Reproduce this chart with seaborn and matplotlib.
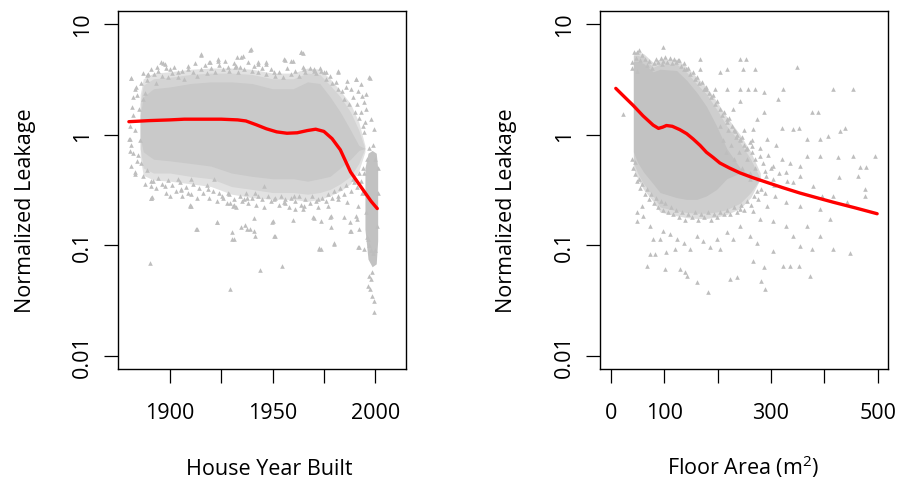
import numpy as np
import pandas as pd
import matplotlib
matplotlib.use("Agg")
import matplotlib.pyplot as plt
from matplotlib.ticker import NullLocator
import seaborn as sns

# ---------------- Left panel: House Year Built ----------------
year_curve = [1880, 1890, 1900, 1907, 1915, 1925, 1933, 1937, 1942, 1947, 1952, 1957, 1962, 1967, 1971, 1975, 1979, 1983, 1988, 1992, 1995, 1998, 2001]
leak_curve_year = [1.31, 1.34, 1.36, 1.38, 1.38, 1.38, 1.36, 1.33, 1.23, 1.13, 1.06, 1.03, 1.04, 1.09, 1.12, 1.07, 0.92, 0.73, 0.46, 0.36, 0.30, 0.25, 0.215]

# dense cloud envelope (halo / outer / inner) for the year panel
env_year = [1885.5, 1887, 1892, 1900, 1910, 1920, 1930, 1940, 1950, 1960, 1967, 1973, 1978, 1983, 1988, 1992, 1995]
env_year_up_halo = [2.3, 3.2, 3.6, 3.7, 3.9, 4.0, 4.0, 3.9, 3.6, 3.6, 4.0, 3.9, 3.2, 2.5, 1.9, 1.3, 0.8]
env_year_lo_halo = [0.62, 0.43, 0.39, 0.38, 0.36, 0.34, 0.29, 0.27, 0.26, 0.26, 0.25, 0.26, 0.28, 0.31, 0.36, 0.47, 0.7]
env_year_up_outer = [1.9, 2.8, 3.2, 3.3, 3.5, 3.6, 3.6, 3.5, 3.2, 3.2, 3.6, 3.5, 2.8, 2.2, 1.6, 1.1, 0.75]
env_year_lo_outer = [0.75, 0.5, 0.45, 0.45, 0.42, 0.40, 0.34, 0.32, 0.30, 0.30, 0.29, 0.30, 0.32, 0.36, 0.42, 0.55, 0.75]
env_year_up_inner = [1.5, 2.2, 2.6, 2.7, 2.9, 3.0, 3.0, 2.9, 2.6, 2.6, 3.0, 2.9, 2.2, 1.6, 1.1, 0.8, 0.75]
env_year_lo_inner = [0.95, 0.7, 0.6, 0.58, 0.55, 0.52, 0.45, 0.42, 0.40, 0.40, 0.38, 0.40, 0.42, 0.50, 0.60, 0.72, 0.75]
# recent-houses strip
strip_year = [1995.0, 1996.5, 1998.5, 2000.5, 2001.2]
strip_up = [0.5, 0.68, 0.72, 0.68, 0.5]
strip_lo = [0.14, 0.075, 0.064, 0.068, 0.11]

# scattered houses (year, leakage): outliers
pts_year = [
    1915.1, 1938.9, 1934.8, 1923.5, 1919.0, 1896.8, 1955.9, 1960.0, 1964.0, 1964.8, 1947.0, 1943.0,
    1981.8, 1990.8, 1997.7, 1995.6, 1992.9, 1880.9, 1883.5, 1888.7, 1893.6, 1931.6, 1932.9,
    1890.1, 1929.2, 1944.1, 1954.8, 1973.4, 1972.6, 1930.0, 1930.3, 1913.0, 1923.0, 1934.8, 1937.6,
    1941.0, 1941.3, 1940.8, 1951.1, 1950.0, 1979.9, 1988.3, 1991.9, 1987.5, 1990.8, 1977.8, 1969.7,
    1960.8, 1964.8, 1955.9, 1937.3, 1929.2, 1925.2, 1910.2, 1910.5, 1905.3, 1891.1, 1891.6, 1883.0,
    1883.8, 1880.6, 1880.2, 1881.4, 1882.2, 1996.4,
    1997.9, 1997.7, 1998.2, 1999.2, 1999.5, 1996.3, 1997.1, 1998.6, 1994.6, 1991.4, 1987.7, 1980.1,
    1972.8, 1950.9, 1912.8, 1923.0, 1949.7, 1959.8, 1970.3, 1978.4, 1973.5, 1985.0, 1991.1, 1992.2,
    1890.9, 1900.0, 1910.0, 1931.0, 1931.0, 1936.5, 1939.0, 1978.5,
    1881.2, 1882.8, 1886.9, 1889.3, 1895.8, 1897.4, 1899.8, 1903.9, 1908.8, 1915.2, 1919.3, 1923.3,
    1928.2, 1932.2, 1935.5, 1939.5, 1942.8, 1946.8, 1950.9, 1955.7, 1959.0, 1963.8, 1965.5, 1970.3,
    1973.6, 1976.0, 1981.7, 1986.5, 1988.2, 1990.6, 1993.8, 1994.6, 1995.4, 1997.1, 1997.9, 1999.5,
    1994.6, 1991.4,
    1880.4, 1882.0, 1881.2, 1882.8, 1890.9, 1890.9, 1897.4, 1903.9, 1905.5, 1910.4, 1909.6, 1918.5,
    1921.7, 1928.2, 1930.6, 1936.3, 1941.2, 1946.0, 1950.9, 1955.7, 1960.6, 1965.5, 1972.0, 1976.8,
    1981.7, 1986.5, 1989.8, 1991.4, 1993.8,
]
pts_leak_year = [
    5.28, 5.87, 5.07, 4.83, 4.5, 4.44, 4.73, 4.66, 5.55, 5.5, 4.57, 4.5,
    3.79, 3.18, 3.25, 2.33, 2.87, 3.23, 2.68, 3.46, 4.06, 4.06, 5.0,
    0.0687, 0.0403, 0.0598, 0.0655, 0.0927, 0.094, 0.114, 0.131, 0.141, 0.164, 0.145, 0.141,
    0.136, 0.121, 0.175, 0.122, 0.167, 0.103, 0.136, 0.096, 0.161, 0.185, 0.179, 0.179,
    0.213, 0.213, 0.241, 0.266, 0.24, 0.28, 0.228, 0.29, 0.318, 0.272, 0.384, 0.457,
    0.58, 0.717, 0.91, 1.77, 2.17, 0.114,
    0.0497, 0.0404, 0.0351, 0.0313, 0.0248, 0.0432, 0.053, 0.058, 0.093, 0.096, 0.136, 0.104,
    0.093, 0.122, 0.141, 0.164, 0.164, 0.17, 0.175, 0.185, 0.165, 0.18, 0.173, 0.14,
    0.27, 0.28, 0.23, 0.23, 0.114, 0.152, 0.14, 0.147,
    3.23, 2.59, 2.10, 3.53, 4.5, 4.35, 3.92, 3.66, 3.92, 5.36, 4.5, 4.66,
    4.06, 4.2, 5.17, 5.94, 4.35, 4.35, 3.66, 4.83, 4.66, 5.55, 3.92, 3.79,
    3.79, 3.66, 3.66, 3.08, 2.59, 3.18, 2.25, 1.96, 1.71, 3.3, 1.39, 1.13,
    1.05, 2.5,
    0.91, 0.69, 0.525, 0.44, 0.346, 0.27, 0.346, 0.40, 0.32, 0.40, 0.228, 0.32,
    0.40, 0.30, 0.228, 0.26, 0.30, 0.346, 0.26, 0.245, 0.28, 0.228, 0.26, 0.228,
    0.28, 0.245, 0.37, 0.228, 0.30,
]
# rim of the dense cloud (top edge)
rim_top_year = [1886, 1887, 1888, 1889, 1891, 1892, 1893, 1894, 1896, 1898, 1899, 1901, 1902, 1904, 1906, 1907, 1909, 1911,
                1912, 1913, 1915, 1917, 1918, 1920, 1922, 1924, 1926, 1927, 1929, 1931, 1933, 1934, 1936, 1938, 1940, 1941,
                1943, 1945, 1947, 1949, 1951, 1953, 1955, 1957, 1959, 1961, 1963, 1965, 1966, 1968, 1970, 1971, 1973, 1975,
                1976, 1978, 1979, 1981, 1982, 1984, 1985, 1986, 1987, 1989, 1990, 1991, 1992, 1993, 1994, 1995]
rim_top_leak = [2.9, 3.6, 2.4, 3.1, 3.9, 3.5, 2.9, 3.8, 3.4, 4.0, 3.3, 3.6, 4.1, 3.3, 3.8, 3.2, 4.2, 3.7,
                4.4, 3.4, 3.9, 4.3, 3.6, 4.0, 3.7, 4.3, 3.9, 4.6, 3.8, 4.4, 3.7, 4.1, 3.9, 4.5, 3.8, 4.2,
                3.7, 4.0, 3.5, 3.9, 3.4, 3.7, 3.3, 4.0, 3.5, 3.8, 3.4, 4.1, 3.7, 4.0, 3.9, 3.6, 4.0, 3.7,
                3.2, 3.4, 2.9, 3.0, 2.6, 2.5, 2.1, 2.7, 1.9, 2.2, 1.6, 1.9, 1.4, 1.6, 1.2, 1.3]
# rim of the dense cloud (bottom edge)
rim_bot_year = [1886, 1887, 1888, 1889, 1891, 1893, 1894, 1896, 1898, 1899, 1901, 1903, 1905, 1906, 1908, 1909, 1911, 1913,
                1914, 1916, 1918, 1919, 1921, 1923, 1924, 1926, 1928, 1929, 1931, 1932, 1934, 1935, 1937, 1938, 1940, 1942,
                1943, 1945, 1946, 1948, 1949, 1951, 1953, 1954, 1956, 1958, 1959, 1961, 1963, 1964, 1966, 1968, 1969, 1971,
                1972, 1974, 1976, 1977, 1979, 1980, 1982, 1983, 1985, 1986, 1988, 1989, 1991, 1992, 1993, 1994]
rim_bot_leak = [0.55, 0.42, 0.36, 0.48, 0.38, 0.33, 0.41, 0.36, 0.30, 0.39, 0.35, 0.31, 0.37, 0.28, 0.34, 0.30, 0.36, 0.27,
                0.33, 0.30, 0.35, 0.27, 0.31, 0.25, 0.30, 0.27, 0.24, 0.29, 0.26, 0.22, 0.28, 0.25, 0.30, 0.24, 0.27, 0.23,
                0.28, 0.26, 0.22, 0.28, 0.25, 0.27, 0.23, 0.28, 0.26, 0.22, 0.27, 0.25, 0.28, 0.23, 0.26, 0.24, 0.28, 0.25,
                0.22, 0.27, 0.25, 0.29, 0.27, 0.31, 0.26, 0.33, 0.29, 0.35, 0.31, 0.40, 0.34, 0.45, 0.38, 0.50]
# early houses and the edges of the recent strip
rim_misc_year = [1880.5, 1881, 1882, 1883, 1884, 1884.5, 1885, 1885.5, 1994.5, 1995, 1995.5, 1996, 1996, 1997, 1998,
                 1999, 2000, 2001, 2001.5, 2001.5, 1997, 1999, 2000]
rim_misc_leak = [1.2, 0.8, 1.5, 1.1, 2.3, 0.65, 1.7, 0.9, 0.45, 0.3, 0.2, 0.12, 0.6, 0.1, 0.09,
                 0.085, 0.09, 0.15, 0.3, 0.5, 0.75, 0.8, 0.6]

# ---------------- Right panel: Floor Area ----------------
area_curve = [9, 25, 42, 60, 79, 89, 97, 104, 115, 129, 142, 154, 167, 179, 192, 204, 222, 242, 265, 292, 322, 354, 385, 417, 458, 499]
leak_curve_area = [2.62, 2.2, 1.83, 1.48, 1.22, 1.14, 1.17, 1.21, 1.19, 1.11, 1.02, 0.914, 0.80, 0.693, 0.62, 0.555, 0.50, 0.451, 0.41, 0.371, 0.332, 0.297, 0.27, 0.245, 0.218, 0.193]

env_area = [42, 50, 61, 79, 92, 123, 142, 161, 179, 198, 217, 242, 262, 280]
env_area_up_halo = [5.6, 5.6, 5.4, 4.5, 4.8, 4.8, 4.1, 3.3, 2.7, 2.0, 1.45, 1.0, 0.7, 0.45]
env_area_lo_halo = [0.5, 0.4, 0.32, 0.25, 0.2, 0.185, 0.178, 0.175, 0.175, 0.18, 0.19, 0.215, 0.27, 0.4]
env_area_up_outer = [5.2, 5.2, 5.0, 4.06, 4.35, 4.35, 3.66, 2.87, 2.33, 1.7, 1.2, 0.85, 0.6, 0.4]
env_area_lo_outer = [0.56, 0.45, 0.36, 0.28, 0.222, 0.205, 0.198, 0.195, 0.195, 0.2, 0.21, 0.24, 0.3, 0.4]
env_area_up_inner = [4.6, 4.6, 4.4, 3.7, 3.9, 3.8, 3.1, 2.4, 1.8, 1.2, 0.75, 0.5, 0.42, 0.4]
env_area_lo_inner = [0.70, 0.56, 0.46, 0.36, 0.30, 0.27, 0.26, 0.26, 0.28, 0.32, 0.40, 0.45, 0.42, 0.4]

pts_area = [
    48, 96.9, 95, 126, 167, 242, 254, 167, 136, 217, 248, 270, 204, 348, 179, 195, 217, 242, 257, 270,
    286, 323, 417, 454, 242, 229, 286, 314, 376, 389, 273, 320, 342, 353, 367, 392, 407, 429, 439, 426,
    454, 495, 467, 479, 464, 428, 367, 392, 354, 329, 304, 342, 379, 354, 476, 476, 395, 417, 442, 329,
    354, 392, 411, 367, 329, 342, 392, 417, 448, 376, 354, 304, 323, 336, 353, 373, 286, 267, 281, 289,
    236, 223, 181, 161, 142, 139, 129, 101, 67, 73, 82.5, 104, 120, 148, 186, 204, 48, 48, 57.5, 60.6,
    73, 79, 92, 98, 111, 123, 136, 161, 173, 198, 217, 229, 242, 261, 273, 279, 304, 267, 242, 292,
    307, 273, 261, 289, 304, 279, 254, 242, 232, 267, 292, 264, 217, 22, 45, 48, 39,
]
pts_leak_area = [
    5.55, 6.15, 4.35, 4.76, 4.83, 4.83, 4.83, 3.92, 3.92, 3.92, 3.92, 3.92, 3.66, 4.06, 2.59, 2.59, 2.59, 2.59, 2.59, 2.59,
    2.41, 2.59, 2.59, 2.59, 2.03, 1.71, 1.59, 2.1, 1.59, 1.59, 1.39, 1.16, 1.13, 1.14, 0.914, 0.914, 0.98, 1.09, 1.16, 0.624,
    0.646, 0.646, 0.507, 0.507, 0.426, 0.411, 0.646, 0.646, 0.525, 0.457, 0.397, 0.371, 0.346, 0.426, 0.322, 0.281, 0.281, 0.281, 0.245, 0.245,
    0.228, 0.213, 0.173, 0.15, 0.15, 0.122, 0.122, 0.093, 0.086, 0.093, 0.099, 0.0895, 0.0655, 0.0655, 0.0655, 0.053, 0.0633, 0.0727, 0.048, 0.0403,
    0.0514, 0.05, 0.0381, 0.047, 0.0525, 0.057, 0.061, 0.061, 0.0655, 0.0835, 0.0835, 0.0865, 0.093, 0.093, 0.096, 0.093, 0.167, 0.199, 0.228, 0.185,
    0.151, 0.114, 0.114, 0.136, 0.126, 0.114, 0.106, 0.122, 0.11, 0.114, 0.131, 0.114, 0.15, 0.122, 0.106, 0.173, 0.167, 0.206, 0.213, 0.228,
    0.281, 0.312, 0.397, 0.473, 0.525, 0.646, 0.742, 0.914, 1.09, 1.13, 0.914, 0.795, 1.39, 1.54, 0.562, 3.79, 3.98,
]
rim_top_area = [40, 44, 47, 52, 55, 58, 63, 68, 72, 76, 81, 85, 88, 93, 97, 101, 105, 110, 114, 118, 122, 127, 131, 136, 140,
                145, 149, 153, 157, 161, 165, 170, 174, 178, 183, 187, 191, 195, 199, 204, 208, 212, 217, 222, 226, 231, 236,
                241, 246, 250, 255, 260, 265, 270]
rim_top_leak_area = [4.5, 5.6, 4.9, 5.8, 4.7, 5.3, 4.8, 4.3, 4.6, 4.0, 4.4, 4.8, 4.5, 4.9, 4.6, 5.0, 4.5, 4.9, 4.4, 4.8, 4.5, 4.7,
                     4.2, 4.4, 3.9, 4.0, 3.5, 3.7, 3.2, 3.3, 2.9, 3.0, 2.6, 2.7, 2.4, 2.2, 2.3, 1.9, 2.0, 1.7, 1.5, 1.6, 1.3,
                     1.4, 1.2, 1.1, 1.0, 0.9, 0.95, 0.8, 0.75, 0.85, 0.7, 0.6]
rim_bot_area = [40, 42, 45, 48, 52, 55, 59, 63, 67, 71, 75, 80, 84, 88, 93, 97, 102, 107, 112, 117, 122, 128, 133, 139, 145,
                151, 157, 163, 169, 175, 181, 187, 193, 199, 205, 211, 218, 224, 230, 236, 243, 249, 255, 262, 268, 275, 282, 288]
rim_bot_leak_area = [0.6, 0.5, 0.44, 0.38, 0.4, 0.33, 0.36, 0.29, 0.32, 0.26, 0.29, 0.24, 0.27, 0.22, 0.25, 0.21, 0.24, 0.2,
                     0.22, 0.19, 0.21, 0.18, 0.2, 0.17, 0.19, 0.18, 0.2, 0.17, 0.19, 0.18, 0.2, 0.17, 0.19, 0.18, 0.2, 0.19,
                     0.21, 0.19, 0.22, 0.2, 0.23, 0.21, 0.25, 0.23, 0.28, 0.26, 0.32, 0.3]
mid_area = [205, 210, 215, 220, 225, 230, 235, 240, 245, 250, 255, 260, 265, 270, 275, 280, 285, 290, 295, 300, 305, 310, 315,
            320, 330, 335]
mid_leak_area = [1.2, 0.9, 0.7, 1.1, 0.8, 0.6, 0.95, 0.7, 0.5, 1.1, 0.6, 0.45, 0.9, 0.5, 0.4, 0.75, 0.55, 0.42, 0.65, 0.5,
                 0.35, 0.8, 0.45, 0.6, 0.38, 0.55]

# ---------------- styling ----------------
sns.set_style("white")
plt.rcParams['font.family'] = ['Open Sans', 'DejaVu Sans']
plt.rcParams['mathtext.fontset'] = 'custom'
plt.rcParams['mathtext.rm'] = 'Open Sans'
plt.rcParams['mathtext.it'] = 'Open Sans:italic'
plt.rcParams['text.color'] = 'black'

PT_COLOR = '#bebebe'
FS = 15.5

fig = plt.figure(figsize=(9.01, 4.81), dpi=100)
W, H = 901, 481
ax1 = fig.add_axes([118 / W, 1 - 370 / H, 288 / W, 358 / H])
ax2 = fig.add_axes([600 / W, 1 - 370 / H, 287.7 / W, 358 / H])


def draw_panel(ax, env_x, layers, px, py, cx, cy):
    ax.set_yscale('log')
    for i, (lo, up, col) in enumerate(layers):
        ax.fill_between(env_x, lo, up, color=col, lw=0, zorder=1 + 0.1 * i)
    sns.scatterplot(x=px, y=py, ax=ax, marker='^', s=11, color=PT_COLOR,
                    linewidth=0, legend=False, zorder=2)
    sns.lineplot(x=cx, y=cy, ax=ax, color='red', linewidth=2.4, sort=False,
                 estimator=None, zorder=3)


left_x = pts_year + rim_top_year + rim_bot_year + rim_misc_year
left_y = pts_leak_year + rim_top_leak + rim_bot_leak + rim_misc_leak
right_x = pts_area + rim_top_area + rim_bot_area + mid_area
right_y = pts_leak_area + rim_top_leak_area + rim_bot_leak_area + mid_leak_area

draw_panel(ax1, env_year,
           [(env_year_lo_halo, env_year_up_halo, '#e2e2e2'),
            (env_year_lo_outer, env_year_up_outer, '#d4d4d4'),
            (env_year_lo_inner, env_year_up_inner, '#c9c9c9')],
           left_x, left_y, year_curve, leak_curve_year)
ax1.fill_between(strip_year, strip_lo, strip_up, color='#c2c2c2', lw=0, zorder=1.5)

draw_panel(ax2, env_area,
           [(env_area_lo_halo, env_area_up_halo, '#dddddd'),
            (env_area_lo_outer, env_area_up_outer, '#cecece'),
            (env_area_lo_inner, env_area_up_inner, '#c2c2c2')],
           right_x, right_y, area_curve, leak_curve_area)

ax1.set_xlim(1874.7, 2015.0)
ax2.set_xlim(-20.6, 518.8)

year_ticks = [1900, 1925, 1950, 1975, 2000]
year_labels = ['1900', '', '1950', '', '2000']
area_ticks = [0, 100, 200, 300, 400, 500]
area_labels = ['0', '100', '', '300', '', '500']
y_ticks = [0.01, 0.1, 1, 10]
y_labels = ['0.01', '0.1', '1', '10']

for ax, xt, xl in [(ax1, year_ticks, year_labels), (ax2, area_ticks, area_labels)]:
    ax.set_ylim(10 ** -2.1175, 10 ** 1.1175)
    ax.set_xticks(xt)
    ax.set_xticklabels(xl)
    ax.set_yticks(y_ticks)
    ax.set_yticklabels(y_labels)
    ax.yaxis.set_minor_locator(NullLocator())
    ax.xaxis.set_minor_locator(NullLocator())
    ax.tick_params(axis='both', direction='out', length=10, width=0.9, colors='black',
                   labelsize=FS, left=True, bottom=True)
    ax.tick_params(axis='x', pad=14)
    ax.tick_params(axis='y', pad=8, labelrotation=90)
    for t in ax.get_yticklabels():
        t.set_va('center')
    for s in ax.spines.values():
        s.set_visible(True)
        s.set_color('black')
        s.set_linewidth(1.0)
    ax.set_xlabel('')
    ax.set_ylabel('')

ax1.text(-0.302, 0.444, 'Normalized Leakage', transform=ax1.transAxes, rotation=90,
         rotation_mode='anchor', ha='center', va='baseline', fontsize=FS, color='black')
ax2.text(-0.306, 0.444, 'Normalized Leakage', transform=ax2.transAxes, rotation=90,
         rotation_mode='anchor', ha='center', va='baseline', fontsize=FS, color='black')
ax1.text((269 - 118) / 288, (370 - 475) / 358, 'House Year Built', transform=ax1.transAxes,
         ha='center', va='baseline', fontsize=FS, color='black')
ax2.text((743 - 600) / 287.7, (370 - 475) / 358, 'Floor Area (m$^2$)', transform=ax2.transAxes,
         ha='center', va='baseline', fontsize=FS, color='black')

fig.savefig('out.png', dpi=100)
